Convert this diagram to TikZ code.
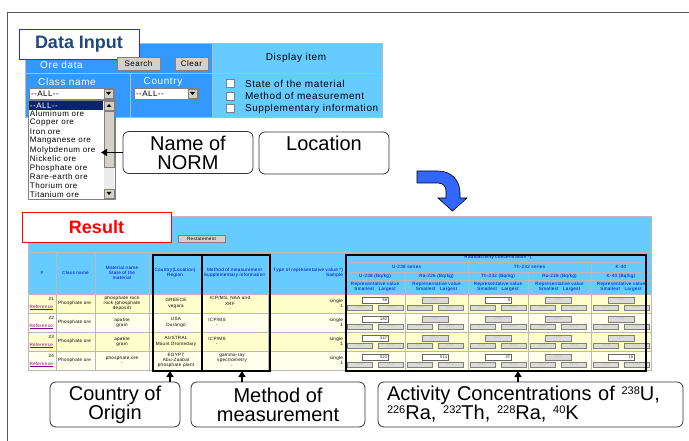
\documentclass[tikz,border=0pt]{standalone}
\usepackage{fontspec}
\setmainfont{Liberation Sans}
\newfontfamily\screenfont[LetterSpace=6]{Liberation Sans}
\usetikzlibrary{positioning,arrows.meta}

\definecolor{panelblue}{RGB}{51,153,255}
\definecolor{paleblue}{RGB}{102,204,255}
\definecolor{navy}{RGB}{31,73,125}
\definecolor{titleblue}{RGB}{40,40,255}
\definecolor{listnavy}{RGB}{10,36,106}
\definecolor{rowyellow}{RGB}{255,255,204}
\definecolor{rowpale}{RGB}{255,255,236}
\definecolor{btngray}{RGB}{212,208,200}
\definecolor{inputgray}{RGB}{220,220,215}
\definecolor{gridgray}{RGB}{185,185,185}
\definecolor{arrowblue}{RGB}{51,102,255}
\definecolor{linkpurple}{RGB}{128,0,128}
\definecolor{hdrblue}{RGB}{0,0,200}

\newcommand\allitem{-{}-ALL-{}-}
\newcommand\nodata{-{}-{}-{}-{}-}
\newcommand\isotope[1]{\raisebox{6pt}{\fontsize{11}{11}\selectfont #1}}

\tikzset{
  every node/.style={inner sep=0pt, outer sep=0pt},
  panel/.style={font=\screenfont\fontsize{10}{12}\selectfont},
  listfont/.style={font=\screenfont\fontsize{8}{9}\selectfont, anchor=west},
  cell/.style={font=\screenfont\fontsize{4.6}{5.3}\selectfont, align=center},
  hdr/.style={cell, text=hdrblue},
  boxfont/.style={font=\screenfont\fontsize{3.8}{4}\selectfont},
  button/.style={draw=gray, fill=btngray, font=\screenfont\fontsize{8}{9}\selectfont},
  grayinput/.style={boxfont, draw=gray, fill=inputgray, text=gray},
  whiteinput/.style={boxfont, draw=black!60, fill=white, text width=24pt, align=right},
  title/.style={fill=white, line width=0.8pt, minimum width=120pt, minimum height=30pt,
                font=\bfseries\fontsize{18}{18}\selectfont},
  notebox/.style={draw=black!80, line width=0.8pt, rounded corners=6pt, minimum height=45pt,
                  align=center, font=\fontsize{20}{19}\selectfont},
  hilite/.style={draw, line width=2pt},
  pointer/.style={-{Triangle[length=6pt,width=7pt]}, line width=1.4pt},
}

\begin{document}
\begin{tikzpicture}[x=1pt,y=-1pt]
\useasboundingbox (0,0) rectangle (689,441);
\draw[black!65, line width=0.9pt] (7,441) -- (7,12) -- (689,12);

% data input panel
\fill[panelblue] (25,43) rectangle (212,117);
\fill[paleblue] (212,43) rectangle (382,117);
\draw[gridgray] (25,43) rectangle (382,117) (25,73) -- (382,73) (130,73) -- (130,117) (212,43) -- (212,117);

\node[title, draw=titleblue, text=navy] (datainput) at (79,44) {Data Input};
\node[panel, text=white] (oredata) at (61.5,65) {Ore data};
\node[button, minimum width=43pt, minimum height=13pt] (search) at (138.5,63.5) {Search};
\node[button, minimum width=33pt, minimum height=13pt] (clear) at (191.5,63.5) {Clear};
\node[panel] (display) at (296,58) {Display item};
\node[panel, text=white] (classname) at (67,82) {Class name};
\node[panel, text=white] (country) at (163,82) {Country};

\node[draw=gray, fill=white, minimum width=85pt, minimum height=11pt, anchor=north west] (classsel) at (29,88) {};
\node[listfont] at (31,93.5) {\allitem};
\node[button, minimum width=9pt, minimum height=9pt] (classbtn) at (108.5,93.5) {};
\fill (106,92) -- (111,92) -- (108.5,95) -- cycle;
\node[draw=gray, fill=white, minimum width=64pt, minimum height=11pt, anchor=north west] (countrysel) at (134,88) {};
\node[listfont] at (136,93.5) {\allitem};
\node[button, minimum width=9pt, minimum height=9pt] (countrybtn) at (192.5,93.5) {};
\fill (190,92) -- (195,92) -- (192.5,95) -- cycle;

\foreach \y/\t in {83.5/State of the material, 96/Method of measurement, 108.5/Supplementary information} {
  \draw[gray, fill=white] (226,\y-4) rectangle (234,\y+4);
  \node[panel, anchor=west] at (245,\y) {\t};
}

% ore list
\node[draw=gray, fill=white, minimum width=87pt, minimum height=99pt, anchor=north west] (orelist) at (28,100) {};
\fill[listnavy] (29,101) rectangle (103,110);
\node[listfont, text=white] at (30,105.5) {\allitem};
\foreach \item [count=\k from 0] in {Aluminum ore, Copper ore, Iron ore, Manganese ore, Molybdenum ore,
    Nickelic ore, Phosphate ore, Rare-earth ore, Thorium ore, Titanium ore}
  \node[listfont] at (30,114+9*\k) {\item};
\fill[black!8] (104,101) rectangle (114,198);
\node[button, minimum width=10pt, minimum height=56pt, anchor=north west] (thumb) at (104,111) {};
\node[button, minimum width=10pt, minimum height=9pt] (upbtn) at (109,105.5) {};
\fill (106.5,107) -- (111.5,107) -- (109,104) -- cycle;
\node[button, minimum width=10pt, minimum height=9pt] (downbtn) at (109,193.5) {};
\fill (106.5,192) -- (111.5,192) -- (109,195) -- cycle;
\coordinate (moly) at (101,152.5);

\node[notebox, minimum width=130pt, minimum height=42pt] (norm) at (188,152.5) {Name of\\NORM};
\node[notebox, minimum width=130pt, minimum height=42pt] (location) at (324,153) {Location\\ \mbox{}};
\draw[pointer] (norm.west) -- (moly);

% turn arrow
\draw[fill=arrowblue, line width=0.6pt] (417,171) -- (438,171) .. controls (451,171) and (460,180) .. (460,193)
  -- (460,198) -- (467,198) -- (452.5,211) -- (438,198) -- (446,198) -- (446,191)
  .. controls (446,186) and (443,183) .. (438,183) -- (417,183) -- cycle;

% result table
\fill[paleblue] (28,216) rectangle (651,294);
\foreach \r/\rowcol in {0/rowyellow,1/rowpale,2/rowyellow,3/rowpale}
  \fill[\rowcol] (28,294+19*\r) rectangle (651,313+19*\r);
\draw[gridgray, line width=0.8pt] (28,216) rectangle (651,370);
\foreach \y in {252,294,313,332,351}
  \draw[gridgray, line width=0.8pt] (28,\y) -- (651,\y);
\foreach \y in {262,272,280}
  \draw[gridgray, line width=0.8pt] (345,\y) -- (651,\y);
\foreach \x in {56,95,149,201,268,345}
  \draw[gridgray, line width=0.8pt] (\x,252) -- (\x,370);
\foreach \x in {468,591}
  \draw[gridgray, line width=0.8pt] (\x,262) -- (\x,370);
\foreach \x in {405,528}
  \draw[gridgray, line width=0.8pt] (\x,272) -- (\x,370);

\node[title, minimum width=149pt, draw=red, text=red] (result) at (96.5,227) {Result};
\node[button, cell, minimum width=47pt, minimum height=7pt] (restate) at (201.5,238.5) {Restatement};

\node[hdr] at (42,273) {\#};
\node[hdr] at (75.5,273) {Class name};
\node[hdr] at (122,273) {Material name\\State of the\\material};
\node[hdr] at (175,273) {Country(Location)\\Region};
\node[hdr] at (234.5,273) {Method of measurement\\Supplementary information};
\node[hdr, anchor=east, align=right] at (343,273) {Type of representative value *)\\Sample};
\node[hdr] at (498,257) {Radioactivity concentration *)};
\node[hdr] at (406.5,267) {U-238 series};
\node[hdr] at (529.5,267) {Th-232 series};
\node[hdr] at (621,267) {K-40};
\foreach \x/\t in {375/U-238, 436.5/Ra-226, 498/Th-232, 559.5/Ra-228, 621/K-40} {
  \node[hdr] at (\x,276) {\t\ (Bq/kg)};
  \node[hdr] at (\x,287) {Representative value\\Smallest\quad Largest};
}

\foreach \r/\n in {0/21,1/22,2/23,3/24} {
  \node[cell, anchor=east] at (54,299+19*\r) {\n};
  \node[cell, anchor=west, text=linkpurple] at (29.5,307.5+19*\r) {\underline{Reference}};
  \node[cell, anchor=west] at (58,303.5+19*\r) {Phosphate ore};
  \node[cell, anchor=east, align=right] at (343,303.5+19*\r) {single\\1};
}
\node[cell] at (122,303.5) {phosphate rock\\rock (phosphate\\deposit)};
\node[cell] at (122,322.5) {apatite\\grain};
\node[cell] at (122,341.5) {apatite\\grain};
\node[cell] at (122,360.5) {phosphate ore\\-};
\node[cell] at (176,303.5) {GREECE\\vegara};
\node[cell] at (176,322.5) {USA\\Durango};
\node[cell] at (176,341.5) {AUSTRAL\\Mount Dromedary};
\node[cell] at (176,360.5) {EGYPT\\Abu-Zaabal\\phosphate plant};
\node[cell] at (230,303.5) {ICP/MS, NAA and\\XRF\\-};
\node[cell] at (217,322.5) {ICP/MS\\-};
\node[cell] at (217,341.5) {ICP/MS\\-};
\node[cell] at (232,360.5) {gamma-ray\\spectrometry\\-};

\foreach \r in {0,...,3}
  \foreach \x in {345,405,468,528,591} {
    \node[grayinput, minimum width=26pt, minimum height=6pt] at (\x+30,300+19*\r) {\nodata};
    \node[grayinput, minimum width=25pt, minimum height=5pt] at (\x+14.5,307.5+19*\r) {\nodata};
    \node[grayinput, minimum width=25pt, minimum height=5pt] at (\x+45.5,307.5+19*\r) {\nodata};
  }
\foreach \x/\r/\v in {345/0/59, 468/0/9, 345/1/182, 345/2/347, 345/3/523, 405/3/514, 468/3/37, 591/3/19}
  \node[whiteinput, minimum width=26pt, minimum height=6pt] at (\x+30,300+19*\r) {\v};

% highlighted columns
\node[hilite, minimum width=49pt, minimum height=116pt] (hcountry) at (177.5,313) {};
\node[hilite, minimum width=68pt, minimum height=116pt] (hmethod) at (236,313) {};
\node[hilite, minimum width=300pt, minimum height=116pt] (hactivity) at (496,313) {};

\node[notebox, minimum width=130pt] (origin) at (115,404.5) {Country of\\Origin};
\node[notebox, minimum width=174pt] (method) at (278,404.5) {Method of\\measurement};
\node[notebox, text width=287pt, inner xsep=9pt, align=left] (activity) at (530.5,404.5)
  {Activity Concentrations of \isotope{238}U,\\
   \isotope{226}Ra, \isotope{232}Th, \isotope{228}Ra, \isotope{40}K};

\draw[pointer] (origin.north -| 170,0) -- (hcountry.south -| 170,0);
\draw[pointer] (method.north -| 242,0) -- (hmethod.south -| 242,0);
\draw[pointer] (activity.north -| 518,0) -- (hactivity.south -| 518,0);

\end{tikzpicture}
\end{document}
